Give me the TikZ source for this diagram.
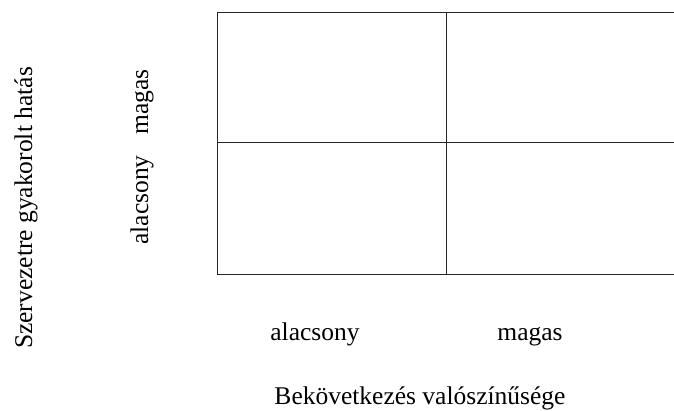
\documentclass[tikz,border=0pt]{standalone}
\usepackage{fontspec}
\setmainfont{Liberation Serif}
\begin{document}
\begin{tikzpicture}[x=1pt,y=1pt,
  gridline/.style={draw=black!85,line width=0.9pt},
  lbl/.style={inner sep=0pt,anchor=base,font=\fontsize{25.5}{30}\selectfont}]
\useasboundingbox (0,0) rectangle (674,411);
% grid (y measured from top: py -> 411-py)
\coordinate (tl) at (217,399);
\coordinate (tm) at (446,399);
\coordinate (tr) at (674,399);
\coordinate (ml) at (217,269);
\coordinate (mr) at (674,269);
\coordinate (bl) at (217,137);
\coordinate (bm) at (446,137);
\coordinate (br) at (674,137);
\draw[gridline] (tr) -- (tl) -- (bl) -- (br);
\draw[gridline] (ml) -- (mr);
\draw[gridline] (tm) -- (bm);
% labels
\node[lbl,rotate=90] (yaxis) at (32,203) {Szervezetre gyakorolt hatás};
\node[lbl,rotate=90] (ymagas) at (148,309) {magas};
\node[lbl,rotate=90] (yalacs) at (148,211) {alacsony};
\node[lbl] (xalacs) at (315,70) {alacsony};
\node[lbl] (xmagas) at (530,70) {magas};
\node[lbl] (xaxis) at (420,6) {Bekövetkezés valószínűsége};
\end{tikzpicture}
\end{document}
